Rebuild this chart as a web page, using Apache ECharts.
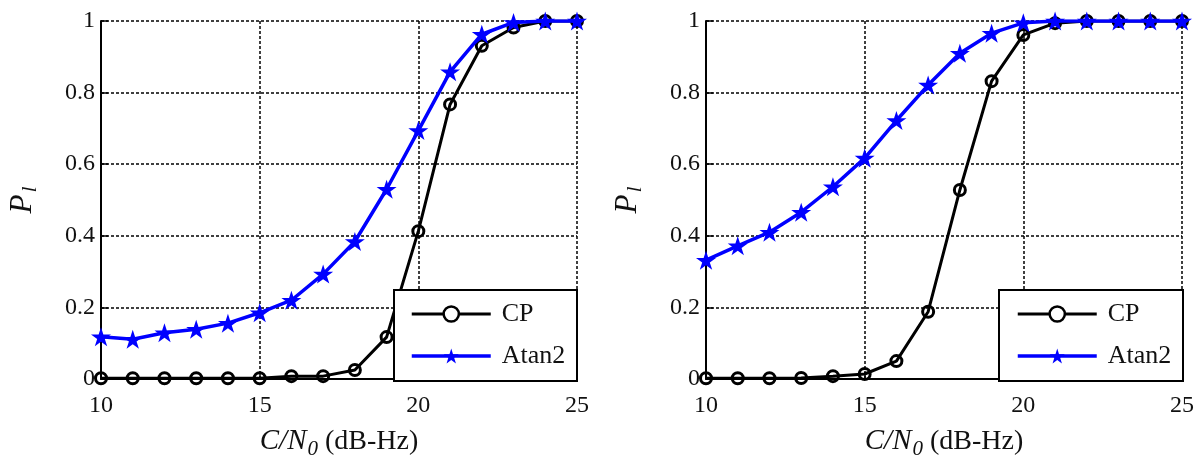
<!DOCTYPE html>
<html>
<head>
<meta charset="utf-8">
<script src="https://cdn.jsdelivr.net/npm/echarts@6/dist/echarts.min.js"></script>
<style>
html,body{margin:0;padding:0;background:#fff;}
#c{width:1204px;height:460px;}
</style>
</head>
<body>
<div id="c"></div>
<script>
// ---- data ----
const xValues = [10, 11, 12, 13, 14, 15, 16, 17, 18, 19, 20, 21, 22, 23, 24, 25];
const leftCP = [0.002, 0.002, 0.002, 0.002, 0.002, 0.002, 0.008, 0.008, 0.025, 0.117, 0.413, 0.767, 0.931, 0.982, 1, 1];
const leftAtan2 = [0.118, 0.111, 0.129, 0.139, 0.156, 0.185, 0.22, 0.293, 0.384, 0.53, 0.694, 0.858, 0.963, 0.996, 1, 1];
const rightCP = [0.002, 0.002, 0.002, 0.003, 0.008, 0.014, 0.05, 0.188, 0.528, 0.832, 0.961, 0.994, 1, 1, 1, 1];
const rightAtan2 = [0.332, 0.372, 0.41, 0.466, 0.537, 0.617, 0.722, 0.821, 0.91, 0.966, 0.995, 1, 1, 1, 1, 1];
const seriesNames = ['CP', 'Atan2'];
const xTicks = { min: 10, max: 25, interval: 5 };
const yTicks = { min: 0, max: 1, interval: 0.2 };

const FONT = '"Liberation Serif", "DejaVu Serif", serif';
const STAR = 'path://M50,0 L61.23,34.55 L97.55,34.55 L68.17,55.9 L79.39,90.45 L50,69.1 L20.61,90.45 L31.83,55.9 L2.45,34.55 L38.77,34.55 Z';

function pairs(arr) { return xValues.map((x, i) => [x, arr[i]]); }

const grids = [
  { left: 101, top: 21, width: 476, height: 358, outerBoundsMode: 'none', containLabel: false },
  { left: 706, top: 21, width: 476, height: 358, outerBoundsMode: 'none', containLabel: false }
];

function xAxis(idx) {
  return {
    type: 'value', gridIndex: idx, min: xTicks.min, max: xTicks.max, interval: xTicks.interval,
    name: '{i|C/N}{s|0}{n| (dB-Hz)}', nameLocation: 'middle', nameGap: 44,
    nameTextStyle: {
      fontFamily: FONT, color: '#111',
      rich: {
        i: { fontFamily: FONT, fontSize: 29, fontStyle: 'italic', color: '#111' },
        s: { fontFamily: FONT, fontSize: 21, fontStyle: 'italic', color: '#111', padding: [16, 0, 0, 1] },
        n: { fontFamily: FONT, fontSize: 28, color: '#111' }
      }
    },
    axisLine: { show: true, onZero: false, lineStyle: { color: '#000', width: 2 } },
    axisTick: { show: true, inside: true, length: 7, lineStyle: { color: '#000', width: 1.5 } },
    axisLabel: { fontFamily: FONT, fontSize: 24, color: '#111', margin: 15 },
    splitLine: { show: true, lineStyle: { color: '#000', width: 1.5, type: [3, 2] } }
  };
}
function yAxis(idx) {
  return {
    type: 'value', gridIndex: idx, min: yTicks.min, max: yTicks.max, interval: yTicks.interval,
    name: '{i|P}{s|l}', nameLocation: 'middle', nameGap: 60, nameRotate: 90,
    nameTextStyle: {
      fontFamily: FONT, color: '#111',
      rich: {
        i: { fontFamily: FONT, fontSize: 31, fontStyle: 'italic', color: '#111' },
        s: { fontFamily: FONT, fontSize: 22, fontStyle: 'italic', color: '#111', padding: [14, 0, 0, 2] }
      }
    },
    axisLine: { show: true, onZero: false, lineStyle: { color: '#000', width: 2 } },
    axisTick: { show: true, inside: true, length: 7, lineStyle: { color: '#000', width: 1.5 } },
    axisLabel: { fontFamily: FONT, fontSize: 24, color: '#111', margin: 6 },
    splitLine: { show: true, lineStyle: { color: '#000', width: 1.5, type: [3, 2] } }
  };
}

function cpSeries(idx, data) {
  return {
    name: seriesNames[0], type: 'line', xAxisIndex: idx, yAxisIndex: idx, data: pairs(data),
    symbol: 'circle', symbolSize: 11, showAllSymbol: true,
    lineStyle: { color: '#000', width: 3 },
    itemStyle: { color: 'rgba(255,255,255,0)', borderColor: '#000', borderWidth: 3 },
    emphasis: { disabled: true }, z: 2, animation: false
  };
}
function atanSeries(idx, data) {
  return {
    name: seriesNames[1], type: 'line', xAxisIndex: idx, yAxisIndex: idx, data: pairs(data),
    symbol: STAR, symbolSize: 20, symbolKeepAspect: true, showAllSymbol: true,
    lineStyle: { color: '#0000ff', width: 3.5 },
    itemStyle: { color: '#0000ff' },
    emphasis: { disabled: true }, z: 3, animation: false
  };
}

function legend(left) {
  return {
    data: [
      { name: seriesNames[0], lineStyle: { width: 3, color: '#000' }, itemStyle: { color: '#fff', borderColor: '#000', borderWidth: 2.5 } },
      { name: seriesNames[1], lineStyle: { width: 3.5, color: '#0000ff' }, itemStyle: { color: '#0000ff' } }
    ],
    orient: 'vertical', left: left, top: 301,
    itemWidth: 79, itemHeight: 19, itemGap: 16, padding: 0,
    selectedMode: false,
    textStyle: { fontFamily: FONT, fontSize: 26, color: '#111', lineHeight: 25, padding: [0, 0, 0, 6] },
    z: 10
  };
}

const chart = echarts.init(document.getElementById('c'), null, { renderer: 'canvas' });
chart.setOption({
  animation: false,
  backgroundColor: '#fff',
  grid: grids,
  xAxis: [xAxis(0), xAxis(1)],
  yAxis: [yAxis(0), yAxis(1)],
  legend: [legend(410), legend(1016)],
  graphic: [
    { type: 'rect', z: 8, shape: { x: 394, y: 290, width: 183, height: 91 }, style: { fill: '#fff', stroke: '#000', lineWidth: 2 } },
    { type: 'rect', z: 8, shape: { x: 999, y: 290, width: 184, height: 91 }, style: { fill: '#fff', stroke: '#000', lineWidth: 2 } }
  ],
  series: [cpSeries(0, leftCP), atanSeries(0, leftAtan2), cpSeries(1, rightCP), atanSeries(1, rightAtan2)]
});
</script>
</body>
</html>
